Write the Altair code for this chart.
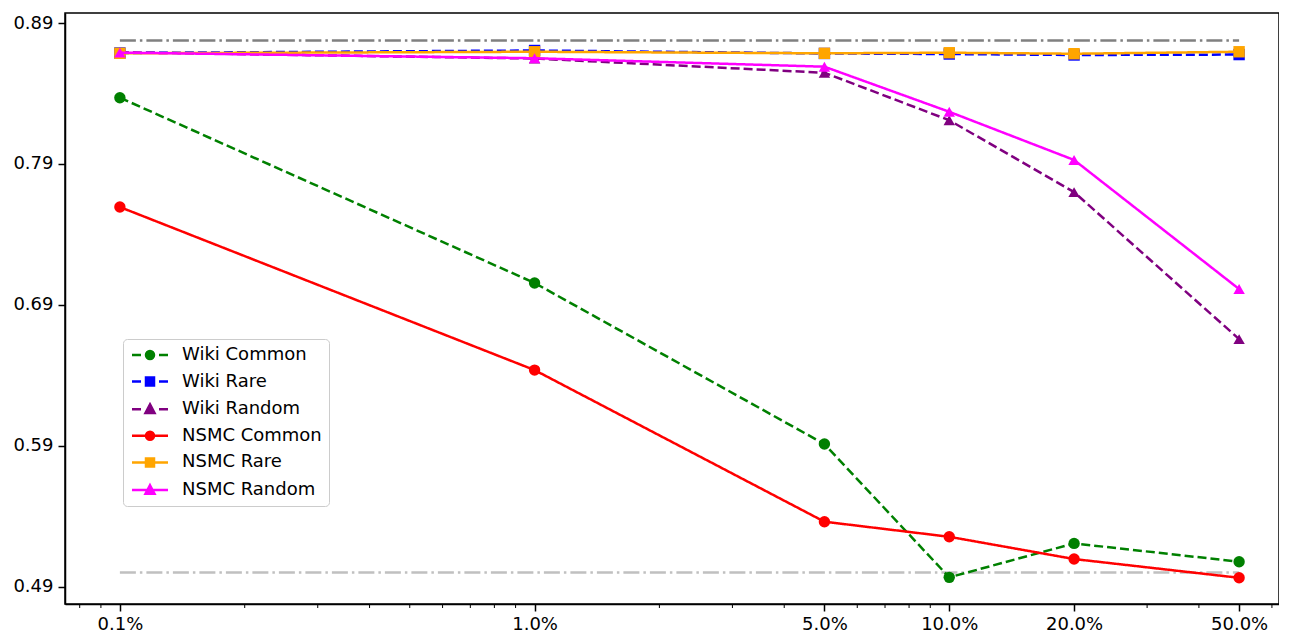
import altair as alt
import pandas as pd

# ---------------- data ----------------
pct = [0.1, 1, 5, 10, 20, 50]                      # training-data share (%)
series_names = ["Wiki Common", "Wiki Rare", "Wiki Random",
                "NSMC Common", "NSMC Rare", "NSMC Random"]
wiki_common = [0.837, 0.7055, 0.5912, 0.4966, 0.5207, 0.5077]
wiki_rare = [0.8687, 0.8705, 0.8684, 0.8680, 0.8673, 0.8676]
wiki_random = [0.8692, 0.8648, 0.8547, 0.8210, 0.7700, 0.6657]
nsmc_common = [0.7594, 0.6437, 0.5361, 0.5254, 0.5096, 0.4963]
nsmc_rare = [0.8685, 0.8696, 0.8685, 0.8689, 0.8682, 0.8696]
nsmc_random = [0.8690, 0.8650, 0.8590, 0.8270, 0.7928, 0.7012]
series_values = [wiki_common, wiki_rare, wiki_random,
                 nsmc_common, nsmc_rare, nsmc_random]

ref_names = ["upper", "lower"]
ref_values = [0.8775, 0.5]
ref_start = [0.1, 0.1]
ref_end = [50, 50]

x_ticks = [0.1, 1, 5, 10, 20, 50]
x_minor = [0.08, 0.09, 0.2, 0.3, 0.4, 0.5, 0.6, 0.7, 0.8, 0.9,
           2, 3, 4, 6, 7, 8, 9, 30, 40, 60]
y_ticks = [0.49, 0.59, 0.69, 0.79, 0.89]

# ---------------- styles ----------------
colors = ["#008000", "#0000ff", "#800080", "#ff0000", "#ffa500", "#ff00ff"]
shapes = ["circle", "square", "triangle-up", "circle", "square", "triangle-up"]
dashes = [[9, 4], [9, 4], [9, 4], [1, 0], [1, 0], [1, 0]]

# legend glyphs: line handle with marker in the middle (units: 1 = 5px)
circ = "M3.0,0 C3.0,0.442 2.642,0.8 2.2,0.8 C1.758,0.8 1.4,0.442 1.4,0 C1.4,-0.442 1.758,-0.8 2.2,-0.8 C2.642,-0.8 3.0,-0.442 3.0,0 Z"
sq = "M1.4,-0.8 L3.0,-0.8 L3.0,0.8 L1.4,0.8 Z"
tri = "M2.2,-0.95 L3.1,0.75 L1.3,0.75 Z"
solid = "M-1.4,0 L5.8,0 "
dashed = "M-1.4,0 L0.4,0 M4.0,0 L5.8,0 "
legend_paths = [dashed + circ, dashed + sq, dashed + tri,
                solid + circ, solid + sq, solid + tri]

W, H = 1214, 591
FONT = "DejaVu Sans"

rows = []
for name, vals in zip(series_names, series_values):
    for p, v in zip(pct, vals):
        rows.append({"series": name, "pct": p, "acc": v})
df = pd.DataFrame(rows)
ref_df = pd.DataFrame({"name": ref_names, "value": ref_values,
                       "x0": ref_start, "x1": ref_end})
minor_df = pd.DataFrame({"v": x_minor})

xscale = alt.Scale(type="log", domain=[0.07373, 62.4], nice=False)
yscale = alt.Scale(domain=[0.4777, 0.8971], nice=False, zero=False)

xaxis = alt.Axis(values=x_ticks, labelExpr="format(datum.value, '.1f') + '%'",
                 title=None, grid=False, tickSize=7, tickWidth=1.5,
                 tickColor="black", domainColor="black", domainWidth=1.5,
                 labelFontSize=18, labelFont=FONT, labelColor="black",
                 labelPadding=4, labelFlush=False, labelOverlap=False)
yaxis = alt.Axis(values=y_ticks, format=".2f", title=None, grid=False,
                 tickSize=7, tickWidth=1.5, tickColor="black",
                 domainColor="black", domainWidth=1.5, labelFontSize=18,
                 labelFont=FONT, labelColor="black", labelPadding=5,
                 minExtent=57, maxExtent=57)


def X(field):
    return alt.X(f"{field}:Q", scale=xscale, axis=xaxis)


def Y(field):
    return alt.Y(f"{field}:Q", scale=yscale, axis=yaxis)


layers = []
ref_colors = ["#808080", "#c0c0c0"]
for name, col in zip(ref_names, ref_colors):
    layers.append(
        alt.Chart(ref_df).transform_filter(alt.datum.name == name)
        .mark_rule(color=col, strokeWidth=2.5, strokeDash=[16, 4, 2.5, 4])
        .encode(x=X("x0"), x2="x1", y=Y("value"))
    )

for name, col, shp, dsh in zip(series_names, colors, shapes, dashes):
    base = alt.Chart(df).transform_filter(alt.datum.series == name)
    layers.append(base.mark_line(color=col, strokeWidth=2.5, strokeDash=dsh)
                  .encode(x=X("pct"), y=Y("acc")))
    layers.append(base.mark_point(color=col, shape=shp, filled=True,
                                  size=130, opacity=1)
                  .encode(x=X("pct"), y=Y("acc")))

layers.append(
    alt.Chart(minor_df).mark_rule(color="black", strokeWidth=1)
    .encode(x=X("v"), y=alt.value(H), y2=alt.value(H + 4))
)

leg = alt.Legend(title=None, orient="none", legendX=58, legendY=326,
                 labelFontSize=18, labelFont=FONT, labelColor="black",
                 symbolSize=100, symbolStrokeWidth=2.5, symbolOpacity=1,
                 rowPadding=8.6, padding=7, strokeColor="#cccccc",
                 fillColor="rgba(255,255,255,0.8)", cornerRadius=4,
                 labelOffset=34, labelLimit=0)
layers.append(
    alt.Chart(df).mark_point(opacity=0, size=100, filled=True)
    .encode(
        x=X("pct"), y=Y("acc"),
        fill=alt.Fill("series:N", scale=alt.Scale(domain=series_names, range=colors), legend=leg),
        stroke=alt.Stroke("series:N", scale=alt.Scale(domain=series_names, range=colors), legend=leg),
        shape=alt.Shape("series:N", scale=alt.Scale(domain=series_names, range=legend_paths), legend=leg),
    )
)

chart = alt.layer(*layers).properties(
    width=W, height=H,
    padding={"left": 0, "top": 5, "right": 0, "bottom": 0},
    background="white",
).configure_view(stroke="black", strokeWidth=1.5)

chart.save("out.html", embed_options={"renderer": "svg", "actions": False})
